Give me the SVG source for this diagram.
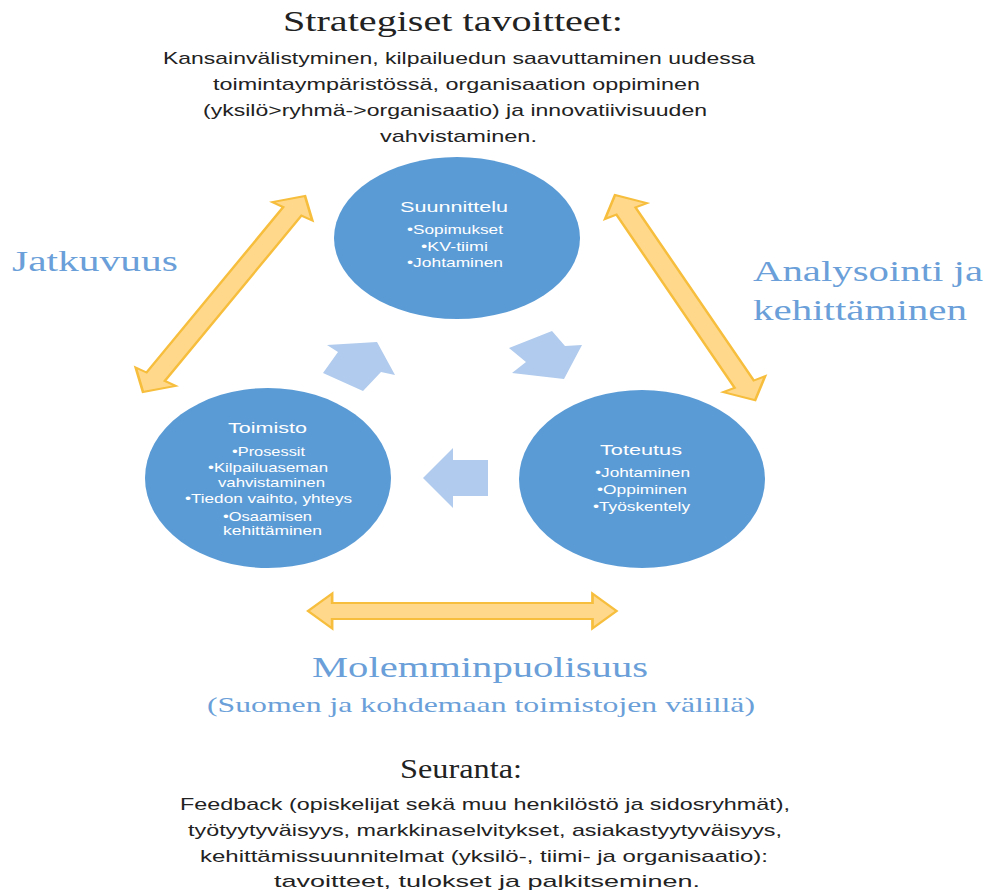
<svg xmlns="http://www.w3.org/2000/svg" width="989" height="890" viewBox="0 0 989 890">
<style>
.bg{fill:#ffffff}
.node{fill:#5b9bd5}
.nt{font-family:"Liberation Sans","DejaVu Sans",sans-serif;fill:#ffffff;font-size:13px}
.nh{font-family:"Liberation Sans","DejaVu Sans",sans-serif;fill:#ffffff;font-size:15px}
.flow{fill:#b0cbed}
.gold{fill:#ffd88c;stroke:#f6be3c;stroke-width:2;stroke-linejoin:miter}
.ser{font-family:"Liberation Serif","Times New Roman",serif}
.lbl{fill:#6a9fd9}
.blk{fill:#222222}
.body{font-family:"Liberation Sans","DejaVu Sans",sans-serif;font-size:17px;fill:#222222}
</style>
<defs>
<polygon id="dbl" points="0,0 18,-17.5 18,-8 212.3,-8 212.3,-17.5 230.3,0 212.3,17.5 212.3,8 18,8 18,17.5"/>
</defs>
<rect class="bg" x="0" y="0" width="989" height="890"/>

<g id="header">
<text class="ser blk" x="283" y="31" font-size="30" textLength="340" lengthAdjust="spacingAndGlyphs">Strategiset tavoitteet:</text>
<text class="body" x="163" y="64" textLength="592" lengthAdjust="spacingAndGlyphs">Kansainvälistyminen, kilpailuedun saavuttaminen uudessa</text>
<text class="body" x="213" y="90" textLength="487" lengthAdjust="spacingAndGlyphs">toimintaympäristössä, organisaation oppiminen</text>
<text class="body" x="203" y="116" textLength="504" lengthAdjust="spacingAndGlyphs">(yksilö&gt;ryhmä-&gt;organisaatio) ja innovatiivisuuden</text>
<text class="body" x="380" y="142" textLength="157" lengthAdjust="spacingAndGlyphs">vahvistaminen.</text>
</g>

<g id="connectors">
<g id="flow-arrows">
<polygon class="flow" points="377,342 395,375 381,372 363,391 323,373 338,352 327,345"/>
<polygon class="flow" points="552,331 565,346 582,345 564,379 512,373 526,362 509,348"/>
<polygon class="flow" points="423,478 453,448 453,460 488,460 488,496 453,496 453,508"/>
</g>
<g id="double-arrows">
<use href="#dbl" class="gold" vector-effect="non-scaling-stroke" transform="matrix(0.7035,-0.851,1.140,0.525,143,392)"/>
<use href="#dbl" class="gold" vector-effect="non-scaling-stroke" transform="matrix(0.6085,0.891,-1.194,0.454,615,195)"/>
<use href="#dbl" class="gold" vector-effect="non-scaling-stroke" transform="matrix(1.34,0,0,1,308,611)"/>
</g>
</g>

<g id="node-suunnittelu">
<ellipse class="node" cx="457" cy="238" rx="123" ry="81"/>
<text class="nh" x="400" y="212" textLength="108" lengthAdjust="spacingAndGlyphs">Suunnittelu</text>
<text class="nt" x="407" y="234" textLength="96" lengthAdjust="spacingAndGlyphs">•Sopimukset</text>
<text class="nt" x="421" y="251" textLength="67" lengthAdjust="spacingAndGlyphs">•KV-tiimi</text>
<text class="nt" x="407" y="267" textLength="96" lengthAdjust="spacingAndGlyphs">•Johtaminen</text>
</g>

<g id="node-toimisto">
<ellipse class="node" cx="268" cy="478" rx="123" ry="90"/>
<text class="nh" x="228" y="433" textLength="79" lengthAdjust="spacingAndGlyphs">Toimisto</text>
<text class="nt" x="232" y="456" textLength="73" lengthAdjust="spacingAndGlyphs">•Prosessit</text>
<text class="nt" x="208" y="472" textLength="120" lengthAdjust="spacingAndGlyphs">•Kilpailuaseman</text>
<text class="nt" x="218" y="487" textLength="107" lengthAdjust="spacingAndGlyphs">vahvistaminen</text>
<text class="nt" x="185" y="503" textLength="167" lengthAdjust="spacingAndGlyphs">•Tiedon vaihto, yhteys</text>
<text class="nt" x="223" y="521" textLength="89" lengthAdjust="spacingAndGlyphs">•Osaamisen</text>
<text class="nt" x="223" y="535" textLength="99" lengthAdjust="spacingAndGlyphs">kehittäminen</text>
</g>

<g id="node-toteutus">
<ellipse class="node" cx="642" cy="479" rx="123" ry="89"/>
<text class="nh" x="600" y="455" textLength="82" lengthAdjust="spacingAndGlyphs">Toteutus</text>
<text class="nt" x="595" y="477" textLength="95" lengthAdjust="spacingAndGlyphs">•Johtaminen</text>
<text class="nt" x="597" y="494" textLength="90" lengthAdjust="spacingAndGlyphs">•Oppiminen</text>
<text class="nt" x="593" y="511" textLength="97" lengthAdjust="spacingAndGlyphs">•Työskentely</text>
</g>

<g id="labels">
<text class="ser lbl" x="12" y="271" font-size="29" textLength="166" lengthAdjust="spacingAndGlyphs">Jatkuvuus</text>
<text class="ser lbl" x="753" y="281" font-size="29" textLength="230" lengthAdjust="spacingAndGlyphs">Analysointi ja</text>
<text class="ser lbl" x="753" y="320" font-size="29" textLength="214" lengthAdjust="spacingAndGlyphs">kehittäminen</text>
<text class="ser lbl" x="312" y="677" font-size="30" textLength="336" lengthAdjust="spacingAndGlyphs">Molemminpuolisuus</text>
<text class="ser lbl" x="207" y="712" font-size="22" textLength="548" lengthAdjust="spacingAndGlyphs">(Suomen ja kohdemaan toimistojen välillä)</text>
</g>

<g id="footer">
<text class="ser blk" x="400" y="778" font-size="28" textLength="122" lengthAdjust="spacingAndGlyphs">Seuranta:</text>
<text class="body" x="180" y="810" textLength="610" lengthAdjust="spacingAndGlyphs">Feedback (opiskelijat sekä muu henkilöstö ja sidosryhmät),</text>
<text class="body" x="188" y="836" textLength="594" lengthAdjust="spacingAndGlyphs">työtyytyväisyys, markkinaselvitykset, asiakastyytyväisyys,</text>
<text class="body" x="200" y="862" textLength="568" lengthAdjust="spacingAndGlyphs">kehittämissuunnitelmat (yksilö-, tiimi- ja organisaatio):</text>
<text class="body" x="274" y="887" textLength="426" lengthAdjust="spacingAndGlyphs">tavoitteet, tulokset ja palkitseminen.</text>
</g>
</svg>
